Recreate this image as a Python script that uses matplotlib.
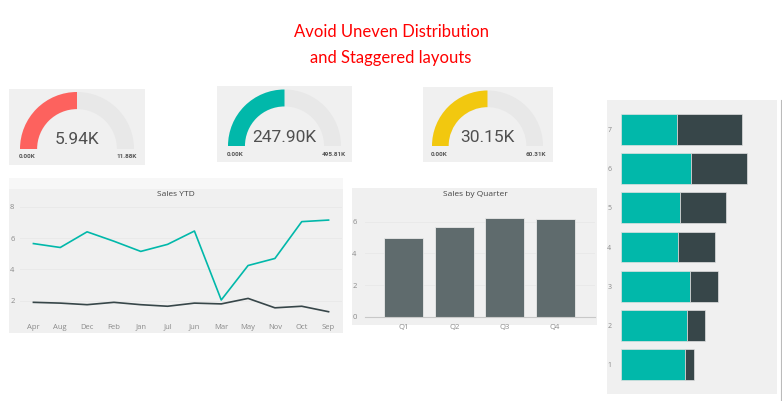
import matplotlib
matplotlib.use("Agg")
import matplotlib.pyplot as plt
from matplotlib.patches import Rectangle, Wedge
import numpy as np

# ---------------- data ----------------
gauge_values = [5.94, 247.90, 30.15]
gauge_max = [11.88, 495.81, 60.31]
gauge_labels = ["5.94K", "247.90K", "30.15K"]
gauge_min_labels = ["0.00K", "0.00K", "0.00K"]
gauge_max_labels = ["11.88K", "495.81K", "60.31K"]

months = ["Apr", "Aug", "Dec", "Feb", "Jan", "Jul", "Jun", "Mar", "May", "Nov", "Oct", "Sep"]
ytd_teal = [5.65, 5.4, 6.4, 5.8, 5.15, 5.6, 6.45, 2.05, 4.25, 4.7, 7.05, 7.15]
ytd_dark = [1.9, 1.85, 1.75, 1.9, 1.75, 1.65, 1.85, 1.8, 2.15, 1.55, 1.65, 1.3]

quarters = ["Q1", "Q2", "Q3", "Q4"]
quarter_sales = [4.97, 5.64, 6.21, 6.15]

hbar_cats = ["1", "2", "3", "4", "5", "6", "7"]
hbar_teal = [2.56, 2.64, 2.76, 2.29, 2.36, 2.80, 2.25]
hbar_dark = [0.35, 0.73, 1.11, 1.48, 1.85, 2.23, 2.60]

# ---------------- style ----------------
W, H = 782, 401
TEAL = "#01B8AA"
DARK = "#374649"
RED = "#FD625E"
YELLOW = "#F2C80F"
PANEL = "#F0F0F0"
TRACK = "#E8E8E8"
FONT = ["Open Sans", "DejaVu Sans"]

fig = plt.figure(figsize=(W / 100, H / 100), dpi=100)
fig.patch.set_facecolor("white")

bg = fig.add_axes([0, 0, 1, 1])
bg.set_xlim(0, W)
bg.set_ylim(0, H)
bg.axis("off")


def Y(y):
    return H - y


def panel(x0, y0, x1, y1, color=PANEL):
    bg.add_patch(Rectangle((x0, Y(y1)), x1 - x0, y1 - y0, facecolor=color, edgecolor="none", zorder=0))


def ax_at(x0, y0, x1, y1):
    return fig.add_axes([x0 / W, (H - y1) / H, (x1 - x0) / W, (y1 - y0) / H])


# title
bg.text(391, Y(32), "Avoid Uneven Distribution", color="#FF0000", fontsize=12,
        family=["Lato", "DejaVu Sans"], ha="center", va="center")
bg.text(391, Y(57.5), "and Staggered layouts", color="#FF0000", fontsize=12,
        family=["Lato", "DejaVu Sans"], ha="center", va="center")

# ---------------- gauges ----------------
gauge_panels = [(9, 89, 145, 165), (217, 86, 352, 162), (423, 87, 553, 162)]
gauge_centers = [(77, 149, 57), (284.5, 146, 56.5), (487.5, 146, 55.5)]
gauge_colors = [RED, TEAL, YELLOW]
for i in range(3):
    panel(*gauge_panels[i])
    cx, cy, r = gauge_centers[i]
    w = r * 0.30
    bg.add_patch(Wedge((cx, Y(cy)), r, 0, 180, width=w, facecolor=TRACK, edgecolor="none", zorder=1))
    ang = 180 - 180 * gauge_values[i] / gauge_max[i]
    bg.add_patch(Wedge((cx, Y(cy)), r, ang, 180, width=w, facecolor=gauge_colors[i], edgecolor="none", zorder=2))
    bg.text(cx, Y(cy - 9), gauge_labels[i], fontsize=12.5, color="#505050",
            family=["Roboto", "DejaVu Sans"], fontweight="normal", ha="center", va="center", zorder=3)
    bg.text(cx - r + 7, Y(cy + 8), gauge_min_labels[i], fontsize=4.6, color="#555555",
            family=["Roboto", "DejaVu Sans"], fontweight="bold", ha="center", va="center")
    bg.text(cx + r - 7, Y(cy + 8), gauge_max_labels[i], fontsize=4.6, color="#555555",
            family=["Roboto", "DejaVu Sans"], fontweight="bold", ha="center", va="center")

# ---------------- line chart ----------------
panel(9, 178, 343, 189, "#F7F7F7")
panel(9, 189, 343, 333)
bg.text(176, Y(194), "Sales YTD", fontsize=6, color="#444444", family=FONT, ha="center", va="center")
ax1 = ax_at(20, 195, 342, 318)
ax1.patch.set_alpha(0)
x = np.arange(len(months))
ax1.plot(x, ytd_teal, color=TEAL, lw=1.2)
ax1.plot(x, ytd_dark, color=DARK, lw=1.2)
ax1.set_xlim(-0.5, len(months) - 0.5)
ax1.set_ylim(0.9, 8.75)
ax1.set_yticks([2, 4, 6, 8])
ax1.set_xticks(x)
ax1.set_xticklabels(months)
ax1.grid(axis="y", color="#E8E8E8", lw=0.6)
ax1.set_axisbelow(True)
for s in ax1.spines.values():
    s.set_visible(False)
ax1.tick_params(length=0, labelsize=5.5, labelcolor="#8A8A8A", pad=4)
for t in ax1.get_xticklabels() + ax1.get_yticklabels():
    t.set_family(FONT)

# ---------------- column chart ----------------
panel(352, 188, 597, 325)
bg.text(475, Y(194), "Sales by Quarter", fontsize=6, color="#444444", family=FONT, ha="center", va="center")
ax2 = ax_at(365, 205, 595, 316.7)
ax2.patch.set_alpha(0)
xq = np.arange(len(quarters))
ax2.bar(xq, quarter_sales, width=0.77, color="#5F6B6D", edgecolor="#E8E8E8", lw=0.6, zorder=2)
ax2.set_xlim(-0.77, 3.79)
ax2.set_ylim(0, 7.05)
ax2.set_yticks([0, 2, 4, 6])
ax2.set_xticks(xq)
ax2.set_xticklabels(quarters)
ax2.grid(axis="y", color="#E8E8E8", lw=0.6)
ax2.set_axisbelow(True)
for k, s in ax2.spines.items():
    s.set_visible(k == "bottom")
ax2.spines["bottom"].set_color("#C8C8C8")
ax2.tick_params(length=0, labelsize=5.5, labelcolor="#8A8A8A", pad=5)
ax2.tick_params(axis="y", pad=6)
for t in ax2.get_xticklabels() + ax2.get_yticklabels():
    t.set_family(FONT)

# ---------------- horizontal stacked bars ----------------
panel(607, 100, 777, 394)
bg.plot([781, 781], [Y(100), Y(401)], color="#BBBBBB", lw=0.8)
ax3 = ax_at(621, 102, 771, 392)
ax3.patch.set_alpha(0)
yh = np.arange(len(hbar_cats))
ax3.barh(yh, hbar_teal, height=0.79, color=TEAL, edgecolor="#E0E0E0", lw=0.5)
ax3.barh(yh, hbar_dark, left=hbar_teal, height=0.79, color=DARK, edgecolor="#E0E0E0", lw=0.5)
ax3.set_xlim(0, 6)
ax3.set_ylim(-0.7, 6.7)
ax3.set_yticks(yh)
ax3.set_yticklabels(hbar_cats)
ax3.set_xticks([])
for s in ax3.spines.values():
    s.set_visible(False)
ax3.tick_params(length=0, labelsize=5, labelcolor="#8A8A8A", pad=7)
for t in ax3.get_yticklabels():
    t.set_family(FONT)

fig.savefig("out.png", dpi=100)
